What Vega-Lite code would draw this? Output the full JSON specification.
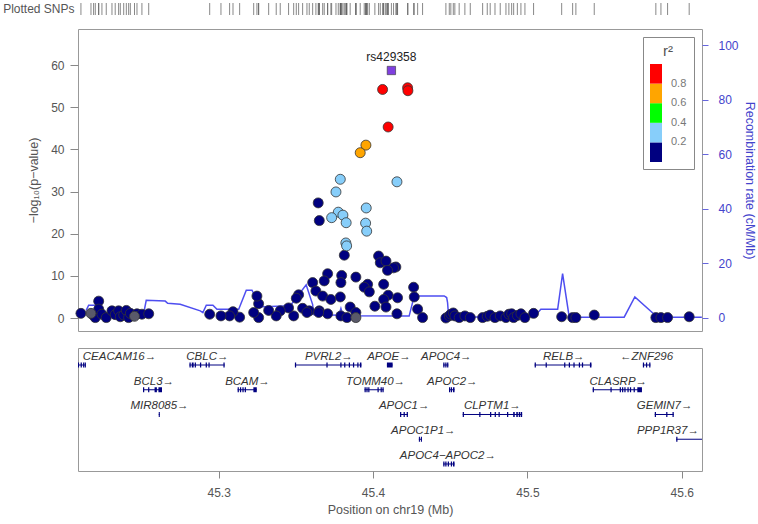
{
  "$schema": "https://vega.github.io/schema/vega-lite/v6.json",
  "padding": {"left": 2, "right": 3, "top": 2, "bottom": 2},
  "config": {
    "font": "Liberation Sans",
    "view": {"stroke": "#999"},
    "axis": {"grid": false}
  },
  "datasets": {
    "snps": [
      {"pos": 45.4119, "logp": 58.7, "r2": 1.0, "snp": "rs429358", "lead": true},
      {"pos": 45.4062, "logp": 54.2, "r2": 0.9},
      {"pos": 45.4224, "logp": 54.6, "r2": 0.9},
      {"pos": 45.4226, "logp": 53.9, "r2": 0.9},
      {"pos": 45.4098, "logp": 45.3, "r2": 0.9},
      {"pos": 45.3954, "logp": 41.0, "r2": 0.7},
      {"pos": 45.3917, "logp": 39.2, "r2": 0.7},
      {"pos": 45.3788, "logp": 32.9, "r2": 0.3},
      {"pos": 45.4155, "logp": 32.3, "r2": 0.3},
      {"pos": 45.3760, "logp": 29.9, "r2": 0.3},
      {"pos": 45.3956, "logp": 26.1, "r2": 0.3},
      {"pos": 45.3775, "logp": 25.1, "r2": 0.3},
      {"pos": 45.3805, "logp": 24.4, "r2": 0.3},
      {"pos": 45.3732, "logp": 23.8, "r2": 0.3},
      {"pos": 45.3826, "logp": 22.6, "r2": 0.3},
      {"pos": 45.3952, "logp": 22.5, "r2": 0.3},
      {"pos": 45.3959, "logp": 20.6, "r2": 0.3},
      {"pos": 45.3824, "logp": 17.8, "r2": 0.3},
      {"pos": 45.3829, "logp": 17.1, "r2": 0.3},
      {"pos": 45.3645, "logp": 27.3, "r2": 0.1},
      {"pos": 45.3652, "logp": 23.1, "r2": 0.1},
      {"pos": 45.3814, "logp": 14.9, "r2": 0.1},
      {"pos": 45.4036, "logp": 14.7, "r2": 0.1},
      {"pos": 45.4047, "logp": 13.1, "r2": 0.1},
      {"pos": 45.4084, "logp": 13.5, "r2": 0.1},
      {"pos": 45.4148, "logp": 12.1, "r2": 0.1},
      {"pos": 45.4133, "logp": 11.9, "r2": 0.1},
      {"pos": 45.4094, "logp": 11.3, "r2": 0.1},
      {"pos": 45.3706, "logp": 10.5, "r2": 0.1},
      {"pos": 45.3797, "logp": 10.1, "r2": 0.1},
      {"pos": 45.3889, "logp": 9.7, "r2": 0.1},
      {"pos": 45.3684, "logp": 8.8, "r2": 0.1},
      {"pos": 45.3792, "logp": 8.4, "r2": 0.1},
      {"pos": 45.3609, "logp": 8.4, "r2": 0.1},
      {"pos": 45.3965, "logp": 8.0, "r2": 0.1},
      {"pos": 45.3943, "logp": 7.3, "r2": 0.1},
      {"pos": 45.4069, "logp": 8.0, "r2": 0.1},
      {"pos": 45.4263, "logp": 7.3, "r2": 0.1},
      {"pos": 45.3630, "logp": 6.4, "r2": 0.1},
      {"pos": 45.3976, "logp": 6.2, "r2": 0.1},
      {"pos": 45.3674, "logp": 5.2, "r2": 0.1},
      {"pos": 45.3727, "logp": 4.4, "r2": 0.1},
      {"pos": 45.3788, "logp": 5.0, "r2": 0.1},
      {"pos": 45.4098, "logp": 5.4, "r2": 0.1},
      {"pos": 45.4159, "logp": 4.8, "r2": 0.1},
      {"pos": 45.4069, "logp": 4.4, "r2": 0.1},
      {"pos": 45.4267, "logp": 5.0, "r2": 0.1},
      {"pos": 45.4012, "logp": 2.8, "r2": 0.1},
      {"pos": 45.4084, "logp": 2.6, "r2": 0.1},
      {"pos": 45.4289, "logp": 2.1, "r2": 0.1},
      {"pos": 45.3852, "logp": 2.6, "r2": 0.1},
      {"pos": 45.3544, "logp": 2.3, "r2": 0.1},
      {"pos": 45.3587, "logp": 1.7, "r2": 0.1},
      {"pos": 45.3652, "logp": 1.7, "r2": 0.1},
      {"pos": 45.3706, "logp": 1.0, "r2": 0.1},
      {"pos": 45.3792, "logp": 0.5, "r2": 0.1},
      {"pos": 45.3831, "logp": 0.1, "r2": 0.1},
      {"pos": 45.3889, "logp": 1.3, "r2": 0.1},
      {"pos": 45.3889, "logp": 0.1, "r2": null},
      {"pos": 45.4155, "logp": 1.0, "r2": 0.1},
      {"pos": 45.4321, "logp": 0.1, "r2": 0.1},
      {"pos": 45.4472, "logp": 0.0, "r2": 0.1},
      {"pos": 45.4494, "logp": 0.5, "r2": 0.1},
      {"pos": 45.3648, "logp": 1.3, "r2": 0.1},
      {"pos": 45.3572, "logp": 1.3, "r2": 0.1},
      {"pos": 45.3518, "logp": 5.5, "r2": 0.1},
      {"pos": 45.3503, "logp": 4.7, "r2": 0.1},
      {"pos": 45.3486, "logp": 0.5, "r2": 0.1},
      {"pos": 45.3453, "logp": 2.4, "r2": 0.1},
      {"pos": 45.3399, "logp": 1.7, "r2": 0.1},
      {"pos": 45.3373, "logp": 0.5, "r2": 0.1},
      {"pos": 45.3324, "logp": 1.8, "r2": 0.1},
      {"pos": 45.3259, "logp": 0.1, "r2": 0.1},
      {"pos": 45.3259, "logp": 3.4, "r2": 0.1},
      {"pos": 45.3248, "logp": 5.2, "r2": 0.1},
      {"pos": 45.3227, "logp": 1.3, "r2": 0.1},
      {"pos": 45.3136, "logp": 0.2, "r2": 0.1},
      {"pos": 45.3093, "logp": 1.5, "r2": 0.1},
      {"pos": 45.3071, "logp": 0.5, "r2": 0.1},
      {"pos": 45.3015, "logp": 0.5, "r2": 0.1},
      {"pos": 45.2942, "logp": 0.9, "r2": 0.1},
      {"pos": 45.2108, "logp": 1.1, "r2": 0.1},
      {"pos": 45.2173, "logp": 1.1, "r2": null},
      {"pos": 45.2190, "logp": 0.6, "r2": 0.1},
      {"pos": 45.2201, "logp": 0.1, "r2": 0.1},
      {"pos": 45.2223, "logp": 4.0, "r2": 0.1},
      {"pos": 45.2223, "logp": 2.1, "r2": 0.1},
      {"pos": 45.2244, "logp": 0.9, "r2": 0.1},
      {"pos": 45.2272, "logp": 0.1, "r2": 0.1},
      {"pos": 45.2309, "logp": 1.7, "r2": 0.1},
      {"pos": 45.2330, "logp": 0.8, "r2": 0.1},
      {"pos": 45.2352, "logp": 1.7, "r2": 0.1},
      {"pos": 45.2363, "logp": 0.3, "r2": 0.1},
      {"pos": 45.2385, "logp": 0.7, "r2": 0.1},
      {"pos": 45.2402, "logp": 1.8, "r2": 0.1},
      {"pos": 45.2417, "logp": 0.1, "r2": 0.1},
      {"pos": 45.2428, "logp": 1.1, "r2": 0.1},
      {"pos": 45.2455, "logp": 0.4, "r2": null},
      {"pos": 45.2471, "logp": 1.0, "r2": 0.1},
      {"pos": 45.2503, "logp": 0.9, "r2": 0.1},
      {"pos": 45.2547, "logp": 1.0, "r2": 0.1},
      {"pos": 45.4504, "logp": 0.9, "r2": 0.1},
      {"pos": 45.4520, "logp": 1.2, "r2": 0.1},
      {"pos": 45.4530, "logp": 0.5, "r2": 0.1},
      {"pos": 45.4558, "logp": 0.1, "r2": 0.1},
      {"pos": 45.4595, "logp": 0.5, "r2": 0.1},
      {"pos": 45.4630, "logp": 0.1, "r2": 0.1},
      {"pos": 45.4710, "logp": 0.1, "r2": 0.1},
      {"pos": 45.4740, "logp": 0.4, "r2": 0.1},
      {"pos": 45.4759, "logp": 0.7, "r2": 0.1},
      {"pos": 45.4790, "logp": 0.1, "r2": 0.1},
      {"pos": 45.4824, "logp": 0.5, "r2": 0.1},
      {"pos": 45.4861, "logp": 0.1, "r2": 0.1},
      {"pos": 45.4880, "logp": 0.9, "r2": 0.1},
      {"pos": 45.4898, "logp": 1.0, "r2": 0.1},
      {"pos": 45.4911, "logp": 0.1, "r2": 0.1},
      {"pos": 45.4935, "logp": 0.6, "r2": 0.1},
      {"pos": 45.4958, "logp": 1.0, "r2": 0.1},
      {"pos": 45.4984, "logp": 0.1, "r2": 0.1},
      {"pos": 45.5040, "logp": 1.1, "r2": 0.1},
      {"pos": 45.5222, "logp": 0.3, "r2": 0.1},
      {"pos": 45.5293, "logp": 0.1, "r2": 0.1},
      {"pos": 45.5314, "logp": 0.1, "r2": 0.1},
      {"pos": 45.5433, "logp": 0.7, "r2": 0.1},
      {"pos": 45.5832, "logp": 0.1, "r2": 0.1},
      {"pos": 45.5865, "logp": 0.1, "r2": 0.1},
      {"pos": 45.5908, "logp": 0.1, "r2": 0.1},
      {"pos": 45.6048, "logp": 0.3, "r2": 0.1}
    ],
    "recomb": [
      {"pos": 45.2142, "rate": 2.8},
      {"pos": 45.2158, "rate": 4.7},
      {"pos": 45.2201, "rate": 4.7},
      {"pos": 45.2218, "rate": 1.5},
      {"pos": 45.2514, "rate": 1.6},
      {"pos": 45.2531, "rate": 6.5},
      {"pos": 45.2654, "rate": 6.2},
      {"pos": 45.2670, "rate": 5.4},
      {"pos": 45.2751, "rate": 5.0},
      {"pos": 45.2881, "rate": 2.6},
      {"pos": 45.2898, "rate": 2.0},
      {"pos": 45.2920, "rate": 4.7},
      {"pos": 45.2963, "rate": 4.7},
      {"pos": 45.2989, "rate": 3.2},
      {"pos": 45.3130, "rate": 3.2},
      {"pos": 45.3179, "rate": 10.2},
      {"pos": 45.3216, "rate": 10.2},
      {"pos": 45.3227, "rate": 9.0},
      {"pos": 45.3248, "rate": 4.0},
      {"pos": 45.3464, "rate": 4.5},
      {"pos": 45.3567, "rate": 12.2},
      {"pos": 45.3609, "rate": 4.9},
      {"pos": 45.3615, "rate": 1.3},
      {"pos": 45.3779, "rate": 1.0},
      {"pos": 45.3792, "rate": 3.5},
      {"pos": 45.3805, "rate": 0.8},
      {"pos": 45.4234, "rate": 0.7},
      {"pos": 45.4267, "rate": 8.1},
      {"pos": 45.4461, "rate": 8.1},
      {"pos": 45.4477, "rate": 7.5},
      {"pos": 45.4483, "rate": 5.6},
      {"pos": 45.4487, "rate": 2.6},
      {"pos": 45.4494, "rate": 0.3},
      {"pos": 45.5044, "rate": 0.5},
      {"pos": 45.5087, "rate": 3.2},
      {"pos": 45.5196, "rate": 3.2},
      {"pos": 45.5228, "rate": 16.3},
      {"pos": 45.5271, "rate": 0.3},
      {"pos": 45.5627, "rate": 0.3},
      {"pos": 45.5696, "rate": 7.7},
      {"pos": 45.5821, "rate": 1.4},
      {"pos": 45.5838, "rate": 0.3},
      {"pos": 45.6130, "rate": 0.3}
    ],
    "genes": [
      {"gene": "CEACAM16", "label": "CEACAM16→", "start": 45.2024, "end": 45.2140, "row": 1, "label_pos": 45.2358},
      {"gene": "CBLC", "label": "CBLC→", "start": 45.2811, "end": 45.3039, "row": 1, "label_pos": 45.2927},
      {"gene": "PVRL2", "label": "PVRL2→", "start": 45.3494, "end": 45.3925, "row": 1, "label_pos": 45.3714},
      {"gene": "APOE", "label": "APOE→", "start": 45.4090, "end": 45.4127, "row": 1, "label_pos": 45.4103},
      {"gene": "APOC4", "label": "APOC4→", "start": 45.4455, "end": 45.4488, "row": 1, "label_pos": 45.4475},
      {"gene": "RELB", "label": "RELB→", "start": 45.5047, "end": 45.5415, "row": 1, "label_pos": 45.5236},
      {"gene": "ZNF296", "label": "←ZNF296", "start": 45.5748, "end": 45.5797, "row": 1, "label_pos": 45.5772},
      {"gene": "BCL3", "label": "BCL3→", "start": 45.2510, "end": 45.2633, "row": 2, "label_pos": 45.2581},
      {"gene": "BCAM", "label": "BCAM→", "start": 45.3123, "end": 45.3247, "row": 2, "label_pos": 45.3187},
      {"gene": "TOMM40", "label": "TOMM40→", "start": 45.3945, "end": 45.4069, "row": 2, "label_pos": 45.4016},
      {"gene": "APOC2", "label": "APOC2→", "start": 45.4492, "end": 45.4528, "row": 2, "label_pos": 45.4514},
      {"gene": "CLASRP", "label": "CLASRP→", "start": 45.5423, "end": 45.5742, "row": 2, "label_pos": 45.5589},
      {"gene": "MIR8085", "label": "MIR8085→", "start": 45.2612, "end": 45.2619, "row": 3, "label_pos": 45.2617},
      {"gene": "APOC1", "label": "APOC1→", "start": 45.4175, "end": 45.4226, "row": 3, "label_pos": 45.4202},
      {"gene": "CLPTM1", "label": "CLPTM1→", "start": 45.4581, "end": 45.4966, "row": 3, "label_pos": 45.4773},
      {"gene": "GEMIN7", "label": "GEMIN7→", "start": 45.5825, "end": 45.5948, "row": 3, "label_pos": 45.5889},
      {"gene": "APOC1P1", "label": "APOC1P1→", "start": 45.4297, "end": 45.4317, "row": 4, "label_pos": 45.4326},
      {"gene": "PPP1R37", "label": "PPP1R37→", "start": 45.5964, "end": 45.6514, "row": 4, "label_pos": 45.5910},
      {"gene": "APOC4-APOC2", "label": "APOC4−APOC2→", "start": 45.4455, "end": 45.4528, "row": 5, "label_pos": 45.4485}
    ],
    "exons": [
      {"gene": "CEACAM16", "row": 1, "start": 45.2088, "end": 45.2096},
      {"gene": "CEACAM16", "row": 1, "start": 45.2106, "end": 45.2114},
      {"gene": "CEACAM16", "row": 1, "start": 45.2122, "end": 45.2130},
      {"gene": "CEACAM16", "row": 1, "start": 45.2133, "end": 45.2140},
      {"gene": "CBLC", "row": 1, "start": 45.2811, "end": 45.2819},
      {"gene": "CBLC", "row": 1, "start": 45.2826, "end": 45.2838},
      {"gene": "CBLC", "row": 1, "start": 45.2845, "end": 45.2853},
      {"gene": "CBLC", "row": 1, "start": 45.2879, "end": 45.2887},
      {"gene": "CBLC", "row": 1, "start": 45.2916, "end": 45.2924},
      {"gene": "CBLC", "row": 1, "start": 45.2934, "end": 45.2942},
      {"gene": "CBLC", "row": 1, "start": 45.3031, "end": 45.3039},
      {"gene": "PVRL2", "row": 1, "start": 45.3494, "end": 45.3502},
      {"gene": "PVRL2", "row": 1, "start": 45.3698, "end": 45.3706},
      {"gene": "PVRL2", "row": 1, "start": 45.3788, "end": 45.3796},
      {"gene": "PVRL2", "row": 1, "start": 45.3813, "end": 45.3821},
      {"gene": "PVRL2", "row": 1, "start": 45.3843, "end": 45.3851},
      {"gene": "PVRL2", "row": 1, "start": 45.3870, "end": 45.3878},
      {"gene": "PVRL2", "row": 1, "start": 45.3898, "end": 45.3906},
      {"gene": "PVRL2", "row": 1, "start": 45.3915, "end": 45.3925},
      {"gene": "APOE", "row": 1, "start": 45.4090, "end": 45.4127},
      {"gene": "APOC4", "row": 1, "start": 45.4455, "end": 45.4463},
      {"gene": "APOC4", "row": 1, "start": 45.4468, "end": 45.4476},
      {"gene": "APOC4", "row": 1, "start": 45.4480, "end": 45.4488},
      {"gene": "RELB", "row": 1, "start": 45.5047, "end": 45.5055},
      {"gene": "RELB", "row": 1, "start": 45.5118, "end": 45.5126},
      {"gene": "RELB", "row": 1, "start": 45.5238, "end": 45.5246},
      {"gene": "RELB", "row": 1, "start": 45.5268, "end": 45.5276},
      {"gene": "RELB", "row": 1, "start": 45.5298, "end": 45.5306},
      {"gene": "RELB", "row": 1, "start": 45.5333, "end": 45.5341},
      {"gene": "RELB", "row": 1, "start": 45.5353, "end": 45.5361},
      {"gene": "RELB", "row": 1, "start": 45.5405, "end": 45.5415},
      {"gene": "ZNF296", "row": 1, "start": 45.5748, "end": 45.5756},
      {"gene": "ZNF296", "row": 1, "start": 45.5768, "end": 45.5776},
      {"gene": "ZNF296", "row": 1, "start": 45.5789, "end": 45.5797},
      {"gene": "BCL3", "row": 2, "start": 45.2510, "end": 45.2518},
      {"gene": "BCL3", "row": 2, "start": 45.2543, "end": 45.2551},
      {"gene": "BCL3", "row": 2, "start": 45.2585, "end": 45.2600},
      {"gene": "BCL3", "row": 2, "start": 45.2610, "end": 45.2633},
      {"gene": "BCAM", "row": 2, "start": 45.3123, "end": 45.3131},
      {"gene": "BCAM", "row": 2, "start": 45.3138, "end": 45.3146},
      {"gene": "BCAM", "row": 2, "start": 45.3154, "end": 45.3162},
      {"gene": "BCAM", "row": 2, "start": 45.3169, "end": 45.3177},
      {"gene": "BCAM", "row": 2, "start": 45.3225, "end": 45.3247},
      {"gene": "TOMM40", "row": 2, "start": 45.3945, "end": 45.3953},
      {"gene": "TOMM40", "row": 2, "start": 45.3957, "end": 45.3965},
      {"gene": "TOMM40", "row": 2, "start": 45.3969, "end": 45.3977},
      {"gene": "TOMM40", "row": 2, "start": 45.4029, "end": 45.4037},
      {"gene": "TOMM40", "row": 2, "start": 45.4049, "end": 45.4057},
      {"gene": "TOMM40", "row": 2, "start": 45.4061, "end": 45.4069},
      {"gene": "APOC2", "row": 2, "start": 45.4492, "end": 45.4500},
      {"gene": "APOC2", "row": 2, "start": 45.4504, "end": 45.4512},
      {"gene": "APOC2", "row": 2, "start": 45.4518, "end": 45.4528},
      {"gene": "CLASRP", "row": 2, "start": 45.5423, "end": 45.5431},
      {"gene": "CLASRP", "row": 2, "start": 45.5538, "end": 45.5546},
      {"gene": "CLASRP", "row": 2, "start": 45.5598, "end": 45.5606},
      {"gene": "CLASRP", "row": 2, "start": 45.5613, "end": 45.5621},
      {"gene": "CLASRP", "row": 2, "start": 45.5628, "end": 45.5636},
      {"gene": "CLASRP", "row": 2, "start": 45.5648, "end": 45.5656},
      {"gene": "CLASRP", "row": 2, "start": 45.5664, "end": 45.5672},
      {"gene": "CLASRP", "row": 2, "start": 45.5688, "end": 45.5696},
      {"gene": "CLASRP", "row": 2, "start": 45.5712, "end": 45.5742},
      {"gene": "MIR8085", "row": 3, "start": 45.2612, "end": 45.2619},
      {"gene": "APOC1", "row": 3, "start": 45.4175, "end": 45.4183},
      {"gene": "APOC1", "row": 3, "start": 45.4198, "end": 45.4206},
      {"gene": "APOC1", "row": 3, "start": 45.4218, "end": 45.4226},
      {"gene": "CLPTM1", "row": 3, "start": 45.4581, "end": 45.4589},
      {"gene": "CLPTM1", "row": 3, "start": 45.4688, "end": 45.4696},
      {"gene": "CLPTM1", "row": 3, "start": 45.4758, "end": 45.4766},
      {"gene": "CLPTM1", "row": 3, "start": 45.4788, "end": 45.4796},
      {"gene": "CLPTM1", "row": 3, "start": 45.4813, "end": 45.4821},
      {"gene": "CLPTM1", "row": 3, "start": 45.4868, "end": 45.4876},
      {"gene": "CLPTM1", "row": 3, "start": 45.4908, "end": 45.4918},
      {"gene": "CLPTM1", "row": 3, "start": 45.4928, "end": 45.4938},
      {"gene": "CLPTM1", "row": 3, "start": 45.4944, "end": 45.4952},
      {"gene": "CLPTM1", "row": 3, "start": 45.4956, "end": 45.4966},
      {"gene": "GEMIN7", "row": 3, "start": 45.5825, "end": 45.5833},
      {"gene": "GEMIN7", "row": 3, "start": 45.5899, "end": 45.5907},
      {"gene": "GEMIN7", "row": 3, "start": 45.5940, "end": 45.5948},
      {"gene": "APOC1P1", "row": 4, "start": 45.4297, "end": 45.4304},
      {"gene": "APOC1P1", "row": 4, "start": 45.4310, "end": 45.4317},
      {"gene": "PPP1R37", "row": 4, "start": 45.5964, "end": 45.5972},
      {"gene": "APOC4-APOC2", "row": 5, "start": 45.4455, "end": 45.4463},
      {"gene": "APOC4-APOC2", "row": 5, "start": 45.4468, "end": 45.4476},
      {"gene": "APOC4-APOC2", "row": 5, "start": 45.4484, "end": 45.4492},
      {"gene": "APOC4-APOC2", "row": 5, "start": 45.4504, "end": 45.4512},
      {"gene": "APOC4-APOC2", "row": 5, "start": 45.4518, "end": 45.4528}
    ]
  },
  "spacing": 14,
  "bounds": "flush",
  "resolve": {"scale": {"color": "independent"}, "legend": {"color": "independent"}},
  "vconcat": [
    {
      "width": 624,
      "height": 12,
      "view": {"stroke": null},
      "data": {"name": "snps"},
      "mark": {"type": "tick", "thickness": 1, "size": 12, "color": "#555"},
      "encoding": {
        "x": {"field": "pos", "type": "quantitative", "scale": {"domain": [45.2089, 45.6131], "nice": false, "zero": false}, "axis": null},
        "y": {"datum": "Plotted SNPs", "type": "nominal", "scale": {"paddingInner": 0, "paddingOuter": 0},
              "axis": {"title": null, "ticks": false, "tickSize": 0, "domain": false, "labelPadding": 4, "labelFontSize": 12, "labelColor": "#555"}}
      }
    },
    {
      "spacing": 17,
      "bounds": "flush",
      "resolve": {"scale": {"color": "independent"}, "legend": {"color": "independent"}},
      "vconcat": [
        {
          "width": 624,
          "height": 302,
          "layer": [
            {
              "data": {"name": "recomb"},
              "mark": {"type": "line", "color": "#3B3BEE", "strokeWidth": 1.5, "opacity": 0.9, "clip": true},
              "encoding": {
                "x": {"field": "pos", "type": "quantitative", "scale": {"domain": [45.2089, 45.6131], "nice": false, "zero": false}, "axis": null},
                "y": {"field": "rate", "type": "quantitative", "scale": {"domain": [-4.77, 106.0], "nice": false, "zero": false},
                      "axis": {"orient": "right", "title": "Recombination rate (cM/Mb)", "values": [0, 20, 40, 60, 80, 100],
                               "domain": false, "tickSize": 6, "tickColor": "#6666DD", "labelPadding": 10, "labelFontSize": 12,
                               "labelColor": "#4444CC", "titleColor": "#4444CC", "titleFontSize": 12.5, "titleFontWeight": "normal", "titlePadding": 4}}
              }
            },
            {
              "layer": [
                {
                  "data": {"name": "snps"},
                  "transform": [{"filter": "datum.r2 != null && !datum.lead"}],
                  "mark": {"type": "circle", "size": 100, "opacity": 1, "stroke": "#333", "strokeWidth": 0.8},
                  "encoding": {
                    "x": {"field": "pos", "type": "quantitative", "scale": {"domain": [45.2089, 45.6131], "nice": false, "zero": false}, "axis": null},
                    "y": {"field": "logp", "type": "quantitative", "scale": {"domain": [-3.08, 68.54], "nice": false, "zero": false},
                          "axis": {"title": "−log₁₀(p−value)", "values": [0, 10, 20, 30, 40, 50, 60], "domain": false, "tickSize": 8,
                                   "tickColor": "#888", "labelPadding": 6, "labelFontSize": 12, "labelColor": "#555",
                                   "titleColor": "#555", "titleFontSize": 12.5, "titleFontWeight": "normal", "titlePadding": 10}},
                    "color": {"field": "r2", "type": "quantitative",
                              "scale": {"type": "threshold", "domain": [0.2, 0.4, 0.6, 0.8], "range": ["#000080", "#87CEFA", "#00FF00", "#FFA500", "#FF0000"]},
                              "legend": {"type": "gradient", "title": "r²", "orient": "top-right", "offset": 8, "direction": "vertical",
                                         "gradientLength": 98, "gradientThickness": 12, "labelFontSize": 11, "labelColor": "#777", "labelOffset": 9,
                                         "titleFontSize": 15, "titleFontWeight": "normal", "titleColor": "#555", "titleAnchor": "middle", "titlePadding": 5,
                                         "strokeColor": "#888", "fillColor": "white", "padding": 7, "gradientStrokeWidth": 0}},
                    "order": {"field": "r2", "type": "quantitative"}
                  }
                },
                {
                  "data": {"name": "snps"},
                  "transform": [{"filter": "datum.r2 == null"}],
                  "mark": {"type": "circle", "size": 100, "opacity": 1, "color": "#5A5A6A", "stroke": "#333", "strokeWidth": 0.8},
                  "encoding": {
                    "x": {"field": "pos", "type": "quantitative"},
                    "y": {"field": "logp", "type": "quantitative"}
                  }
                },
                {
                  "data": {"name": "snps"},
                  "transform": [{"filter": "datum.lead"}],
                  "mark": {"type": "square", "size": 70, "opacity": 1, "color": "#7F3FDF", "stroke": "#333", "strokeWidth": 0.6},
                  "encoding": {
                    "x": {"field": "pos", "type": "quantitative"},
                    "y": {"field": "logp", "type": "quantitative"}
                  }
                },
                {
                  "data": {"name": "snps"},
                  "transform": [{"filter": "datum.lead"}],
                  "mark": {"type": "text", "fontSize": 12, "color": "#222", "baseline": "alphabetic", "dy": -9},
                  "encoding": {
                    "x": {"field": "pos", "type": "quantitative"},
                    "y": {"field": "logp", "type": "quantitative"},
                    "text": {"field": "snp"}
                  }
                }
              ]
            }
          ],
          "resolve": {"scale": {"y": "independent"}, "axis": {"y": "independent"}}
        },
        {
          "width": 624,
          "height": 123,
          "layer": [
            {
              "data": {"name": "genes"},
              "mark": {"type": "rule", "color": "#000080", "strokeWidth": 1, "clip": true},
              "encoding": {
                "x": {"field": "start", "type": "quantitative", "scale": {"domain": [45.2089, 45.6131], "nice": false, "zero": false},
                      "axis": {"title": "Position on chr19 (Mb)", "values": [45.3, 45.4, 45.5, 45.6], "format": ".1f", "domain": false,
                               "tickSize": 7, "tickColor": "#888", "labelPadding": 9, "labelFontSize": 12, "labelColor": "#555",
                               "titleColor": "#555", "titleFontSize": 12.5, "titleFontWeight": "normal", "titlePadding": 5}},
                "x2": {"field": "end"},
                "y": {"field": "row", "type": "quantitative", "scale": {"domain": [0.313, 5.283], "reverse": true, "nice": false, "zero": false}, "axis": null}
              }
            },
            {
              "data": {"name": "exons"},
              "mark": {"type": "rule", "color": "#000080", "strokeWidth": 5, "strokeCap": "butt", "clip": true},
              "encoding": {
                "x": {"field": "start", "type": "quantitative"},
                "x2": {"field": "end"},
                "y": {"field": "row", "type": "quantitative"}
              }
            },
            {
              "data": {"name": "genes"},
              "mark": {"type": "text", "fontSize": 11.5, "fontStyle": "italic", "color": "#333", "baseline": "alphabetic", "dy": -5, "clip": true},
              "encoding": {
                "x": {"field": "label_pos", "type": "quantitative"},
                "y": {"field": "row", "type": "quantitative"},
                "text": {"field": "label"}
              }
            }
          ]
        }
      ]
    }
  ]
}
